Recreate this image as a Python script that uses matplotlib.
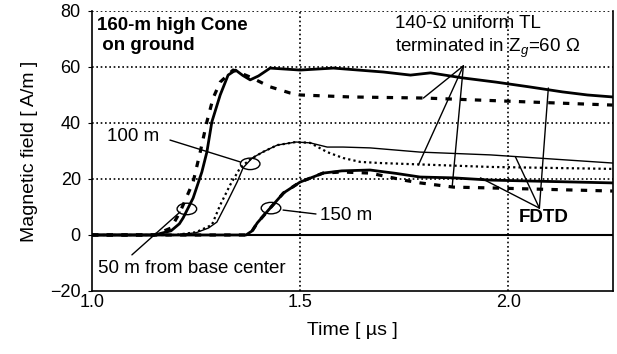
import matplotlib
matplotlib.use("Agg")
import matplotlib.pyplot as plt
from matplotlib.patches import Ellipse

plt.rcParams["font.family"] = ["Liberation Sans", "DejaVu Sans"]
plt.rcParams["mathtext.fontset"] = "custom"
plt.rcParams["mathtext.rm"] = "Liberation Sans"
plt.rcParams["mathtext.it"] = "Liberation Sans:italic"

# ── DATA ──
# 50 m from base centre
t_50_fdtd = [1.00, 1.15, 1.19, 1.21, 1.219, 1.243, 1.264, 1.276, 1.288, 1.308, 1.327, 1.345,
             1.362, 1.38, 1.40, 1.428, 1.50, 1.58, 1.70, 1.765, 1.813, 1.89, 1.97, 2.05, 2.13, 2.19, 2.25]
h_50_fdtd = [0.0, 0.0, 1.5, 4.0, 6.1, 13.2, 22.5, 29.6, 40.4, 50.0, 57.1, 58.9,
             57.0, 55.4, 56.8, 59.6, 58.9, 59.6, 58.2, 57.1, 57.9, 56.1, 54.6, 52.9, 51.1, 50.0, 49.3]
t_50_tl = [1.00, 1.15, 1.19, 1.2115, 1.243, 1.26, 1.276, 1.291, 1.308, 1.339,
           1.38, 1.428, 1.476, 1.50, 1.62, 1.80, 2.05, 2.25]
h_50_tl = [0.0, 0.0, 2.5, 8.2, 18.9, 29.6, 40.4, 48.9, 54.6, 58.9,
           56.4, 52.9, 50.7, 50.0, 49.3, 48.9, 47.5, 46.4]

# 100 m
t_100_fdtd = [1.00, 1.20, 1.25, 1.28, 1.30, 1.325, 1.349, 1.363, 1.385, 1.41, 1.445, 1.49,
              1.524, 1.565, 1.603, 1.668, 1.788, 1.957, 2.25]
h_100_fdtd = [0.0, 0.0, 0.8, 2.5, 4.6, 11.8, 19.0, 24.0, 27.5, 29.6, 32.1, 33.2,
              32.9, 31.4, 31.4, 31.1, 29.6, 28.6, 25.7]
t_100_tl = [1.00, 1.20, 1.25, 1.288, 1.308, 1.332, 1.356, 1.38, 1.41, 1.445, 1.49,
            1.524, 1.565, 1.603, 1.644, 1.692, 1.957, 2.25]
h_100_tl = [0.0, 0.0, 1.0, 3.6, 10.7, 17.9, 24.0, 27.0, 29.6, 32.1, 33.2,
            32.9, 29.6, 27.5, 26.1, 25.7, 24.3, 23.6]

# 150 m
t_150_fdtd = [1.00, 1.37, 1.385, 1.397, 1.428, 1.46, 1.50, 1.555, 1.60, 1.668,
              1.73, 1.788, 1.868, 1.957, 2.25]
h_150_fdtd = [0.0, 0.0, 1.5, 4.3, 9.6, 15.0, 18.9, 22.1, 22.9, 23.2,
              22.0, 20.7, 20.4, 19.6, 18.6]
t_150_tl = [1.00, 1.37, 1.385, 1.397, 1.428, 1.46, 1.50, 1.555, 1.60, 1.668,
            1.748, 1.788, 1.868, 1.957, 2.25]
h_150_tl = [0.0, 0.0, 1.5, 4.3, 9.6, 15.0, 18.9, 22.1, 22.5, 22.1,
            19.6, 18.6, 17.1, 16.8, 15.7]

X_TICKS = [1.0, 1.5, 2.0]
Y_TICKS = [-20, 0, 20, 40, 60, 80]

# ── FIGURE ──
fig = plt.figure(figsize=(6.17, 3.54), dpi=100)
ax = fig.add_axes([0.149, 0.178, 0.845, 0.791])
ax.set_xlim(1.0, 2.252)
ax.set_ylim(-20, 80)

GRID = dict(color="black", linewidth=1.2, linestyle=(0, (1, 1.6)))
for y in [20, 40, 60, 80]:
    ax.axhline(y, zorder=1, **GRID)
for x in [1.5, 2.0]:
    ax.axvline(x, zorder=1, **GRID)
ax.axhline(0, color="black", linewidth=1.5, zorder=2)

# curves
ax.plot(t_50_fdtd, h_50_fdtd, color="black", linewidth=2.0, zorder=4)
ax.plot(t_50_tl, h_50_tl, color="black", linewidth=2.3, dashes=(2.0, 2.6), zorder=4)
ax.plot(t_100_fdtd, h_100_fdtd, color="black", linewidth=1.0, zorder=4)
ax.plot(t_100_tl, h_100_tl, color="black", linewidth=1.6, dashes=(1.0, 1.4), zorder=4)
ax.plot(t_150_fdtd, h_150_fdtd, color="black", linewidth=2.0, zorder=4)
ax.plot(t_150_tl, h_150_tl, color="black", linewidth=2.3, dashes=(2.0, 2.6), zorder=4)

# circles marking the curves
for cx, cy in [(1.228, 9.3), (1.38, 25.4), (1.430, 9.6)]:
    ax.add_patch(Ellipse((cx, cy), 0.047, 4.1, facecolor="none",
                         edgecolor="black", linewidth=1.0, zorder=5))

# annotation leaders
def leader(x0, y0, x1, y1):
    ax.annotate("", xy=(x1, y1), xytext=(x0, y0),
                arrowprops=dict(arrowstyle="-", color="black", lw=1.0,
                                shrinkA=0, shrinkB=0), zorder=6)

leader(1.1875, 33.9, 1.356, 26.1)
leader(1.459, 8.9, 1.538, 7.5)
leader(1.096, -7.1, 1.2115, 8.2)
for x1, y1 in [(1.796, 48.9), (1.784, 25.0), (1.865, 17.1)]:
    leader(1.892, 60.4, x1, y1)
for x1, y1 in [(2.096, 52.5), (2.017, 27.9), (1.933, 20.4)]:
    leader(2.0745, 9.6, x1, y1)

FS = 13.5
ax.text(1.012, 78.0, "160-m high Cone\n on ground", fontsize=FS, fontweight="bold",
        ha="left", va="top", linespacing=1.25, zorder=7)
ax.text(1.728, 78.5, "140-Ω uniform TL\nterminated in Z$_{g}$=60 Ω", fontsize=FS,
        ha="left", va="top", linespacing=1.3, zorder=7)
ax.text(1.036, 35.0, "100 m", fontsize=FS, ha="left", va="center", zorder=7)
ax.text(1.548, 7.1, "150 m", fontsize=FS, ha="left", va="center", zorder=7)
ax.text(1.014, -12.0, "50 m from base center", fontsize=FS, ha="left", va="center", zorder=7)
ax.text(2.084, 6.1, "FDTD", fontsize=FS, fontweight="bold", ha="center", va="center", zorder=7)

# axes cosmetics
ax.set_xticks(X_TICKS)
ax.set_xticklabels([f"{v:.1f}" for v in X_TICKS])
ax.set_yticks(Y_TICKS)
ax.tick_params(axis="x", length=0, pad=2, labelsize=13)
ax.tick_params(axis="y", length=3, direction="out", pad=5, labelsize=13)
ax.spines["top"].set_visible(False)
for s in ["left", "right", "bottom"]:
    ax.spines[s].set_linewidth(1.2)
ax.set_xlabel("Time [ µs ]", fontsize=14, labelpad=8)
ax.set_ylabel("Magnetic field [ A/m ]", fontsize=14, labelpad=9)

fig.savefig("out.png", dpi=100, facecolor="white")
